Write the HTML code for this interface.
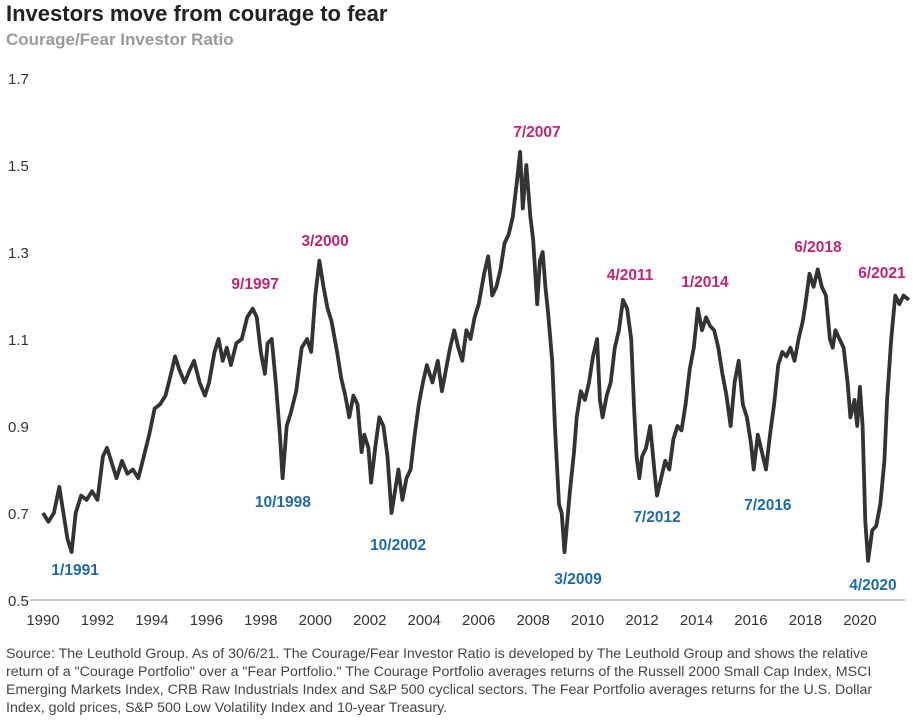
<!DOCTYPE html>
<html><head><meta charset="utf-8"><style>
body{margin:0;background:#fff;font-family:"Liberation Sans",sans-serif;width:916px;height:720px;overflow:hidden;position:relative}
.t{position:absolute;left:6px;top:1px;font-size:22px;font-weight:bold;color:#222}
.s{position:absolute;left:6px;top:30px;font-size:17px;font-weight:bold;color:#9a9a9a}
.src{position:absolute;left:6px;top:645px;width:892px;font-size:14.2px;line-height:18px;color:#444}
</style></head><body>
<div class="t">Investors move from courage to fear</div>
<div class="s">Courage/Fear Investor Ratio</div>
<svg id="c" width="916" height="640" style="position:absolute;left:0;top:0"></svg>
<div class="src">Source: The Leuthold Group. As of 30/6/21. The Courage/Fear Investor Ratio is developed by The Leuthold Group and shows the relative return of a "Courage Portfolio" over a "Fear Portfolio." The Courage Portfolio averages returns of the Russell 2000 Small Cap Index, MSCI Emerging Markets Index, CRB Raw Industrials Index and S&amp;P 500 cyclical sectors. The Fear Portfolio averages returns for the U.S. Dollar Index, gold prices, S&amp;P 500 Low Volatility Index and 10-year Treasury.</div>
<script>
const years=[1990,1990.2,1990.4,1990.6,1990.75,1990.9,1991.05,1991.2,1991.4,1991.6,1991.8,1992,1992.2,1992.35,1992.5,1992.7,1992.9,1993.1,1993.3,1993.5,1993.7,1993.9,1994.1,1994.3,1994.5,1994.7,1994.85,1995,1995.2,1995.4,1995.55,1995.75,1995.95,1996.1,1996.3,1996.45,1996.6,1996.75,1996.9,1997.1,1997.3,1997.5,1997.7,1997.85,1998,1998.15,1998.25,1998.4,1998.55,1998.7,1998.8,1998.95,1999.1,1999.3,1999.5,1999.7,1999.85,2000,2000.15,2000.3,2000.45,2000.6,2000.8,2000.95,2001.1,2001.25,2001.4,2001.55,2001.7,2001.8,2001.95,2002.05,2002.2,2002.35,2002.5,2002.65,2002.8,2002.9,2003.05,2003.2,2003.35,2003.5,2003.65,2003.8,2003.95,2004.1,2004.3,2004.5,2004.65,2004.8,2004.95,2005.1,2005.25,2005.4,2005.55,2005.7,2005.85,2006,2006.2,2006.35,2006.5,2006.65,2006.8,2006.95,2007.1,2007.25,2007.4,2007.52,2007.62,2007.75,2007.9,2008,2008.15,2008.25,2008.35,2008.45,2008.55,2008.7,2008.8,2008.95,2009.05,2009.15,2009.25,2009.35,2009.5,2009.6,2009.75,2009.9,2010.05,2010.2,2010.35,2010.45,2010.55,2010.7,2010.85,2011,2011.15,2011.3,2011.45,2011.6,2011.7,2011.8,2011.9,2012,2012.15,2012.3,2012.45,2012.55,2012.7,2012.85,2013,2013.15,2013.3,2013.45,2013.6,2013.75,2013.9,2014.05,2014.2,2014.35,2014.5,2014.65,2014.8,2014.95,2015.1,2015.25,2015.4,2015.55,2015.7,2015.85,2016,2016.1,2016.25,2016.4,2016.55,2016.7,2016.85,2017,2017.15,2017.3,2017.45,2017.6,2017.75,2017.9,2018,2018.15,2018.3,2018.45,2018.6,2018.75,2018.9,2019,2019.1,2019.25,2019.4,2019.55,2019.65,2019.8,2019.9,2020,2020.1,2020.2,2020.3,2020.45,2020.6,2020.75,2020.9,2021,2021.15,2021.3,2021.45,2021.6,2021.8];
const ratio=[0.70,0.68,0.70,0.76,0.70,0.64,0.61,0.70,0.74,0.73,0.75,0.73,0.83,0.85,0.82,0.78,0.82,0.79,0.80,0.78,0.83,0.88,0.94,0.95,0.97,1.02,1.06,1.03,1.00,1.03,1.05,1.00,0.97,1.00,1.07,1.10,1.05,1.08,1.04,1.09,1.10,1.15,1.17,1.15,1.07,1.02,1.09,1.10,1.00,0.88,0.78,0.90,0.93,0.98,1.08,1.10,1.07,1.20,1.28,1.22,1.17,1.14,1.07,1.01,0.97,0.92,0.97,0.95,0.84,0.88,0.85,0.77,0.85,0.92,0.90,0.83,0.70,0.74,0.80,0.73,0.78,0.80,0.88,0.95,1.00,1.04,1.00,1.05,0.98,1.03,1.08,1.12,1.08,1.05,1.12,1.10,1.15,1.18,1.25,1.29,1.20,1.22,1.26,1.32,1.34,1.38,1.46,1.53,1.40,1.50,1.38,1.33,1.18,1.28,1.30,1.22,1.16,1.05,0.90,0.72,0.70,0.61,0.68,0.75,0.84,0.92,0.98,0.96,1.00,1.06,1.10,0.96,0.92,0.97,1.00,1.08,1.12,1.19,1.17,1.10,0.95,0.83,0.78,0.83,0.85,0.90,0.80,0.74,0.78,0.82,0.80,0.87,0.90,0.89,0.95,1.03,1.08,1.17,1.12,1.15,1.13,1.12,1.08,1.02,0.97,0.90,1.00,1.05,0.95,0.92,0.86,0.80,0.88,0.84,0.80,0.88,0.95,1.04,1.07,1.06,1.08,1.05,1.10,1.14,1.18,1.25,1.22,1.26,1.22,1.20,1.10,1.08,1.12,1.10,1.08,1.00,0.92,0.96,0.90,0.99,0.90,0.68,0.59,0.66,0.67,0.72,0.82,0.96,1.10,1.20,1.18,1.20,1.19];
const yTicks=[0.5,0.7,0.9,1.1,1.3,1.5,1.7];
const xTicks=[1990,1992,1994,1996,1998,2000,2002,2004,2006,2008,2010,2012,2014,2016,2018,2020];
const peaks=["9/1997","3/2000","7/2007","4/2011","1/2014","6/2018","6/2021"];
const peakX=[1997.79,2000.36,2008.14,2011.56,2014.31,2018.46,2020.81];
const peakV=[1.215,1.314,1.564,1.236,1.22,1.30,1.24];
const troughs=["1/1991","10/1998","10/2002","3/2009","7/2012","7/2016","4/2020"];
const troughX=[1991.18,1998.81,2003.04,2009.65,2012.55,2016.62,2020.48];
const troughV=[0.557,0.714,0.615,0.537,0.679,0.707,0.523];
const NS="http://www.w3.org/2000/svg",svg=document.getElementById('c');
const X=y=>43+(y-1990)*27.23, Y=v=>600-(v-0.5)*435;
function mk(t,a,p){const e=document.createElementNS(NS,t);for(const k in a)e.setAttribute(k,a[k]);(p||svg).appendChild(e);return e;}
const ax=mk('line',{x1:30,x2:905,y1:Y(0.5),y2:Y(0.5),stroke:'#bbb','stroke-width':1.5});


yTicks.forEach(v=>{const t=mk('text',{x:8,y:Y(v)+6,'font-size':15,fill:'#333'});t.textContent=v.toFixed(1);

});
xTicks.forEach(v=>{const t=mk('text',{x:X(v),y:625,'font-size':15,fill:'#333','text-anchor':'middle'});t.textContent=v;

});
const d=years.map((y,i)=>(i?'L':'M')+X(y).toFixed(1)+','+Y(ratio[i]).toFixed(1)).join('');
const ln=mk('path',{d:d,fill:'none',stroke:'#333','stroke-width':3.8,'stroke-linejoin':'round'});


peaks.forEach((s,i)=>{const t=mk('text',{x:X(peakX[i]),y:Y(peakV[i]),'font-size':15.5,'font-weight':'bold',fill:'#c0256e','text-anchor':'middle'});t.textContent=s;

});
troughs.forEach((s,i)=>{const t=mk('text',{x:X(troughX[i]),y:Y(troughV[i]),'font-size':15.5,'font-weight':'bold',fill:'#1f6aa5','text-anchor':'middle'});t.textContent=s;

});
</script>
</body></html>
